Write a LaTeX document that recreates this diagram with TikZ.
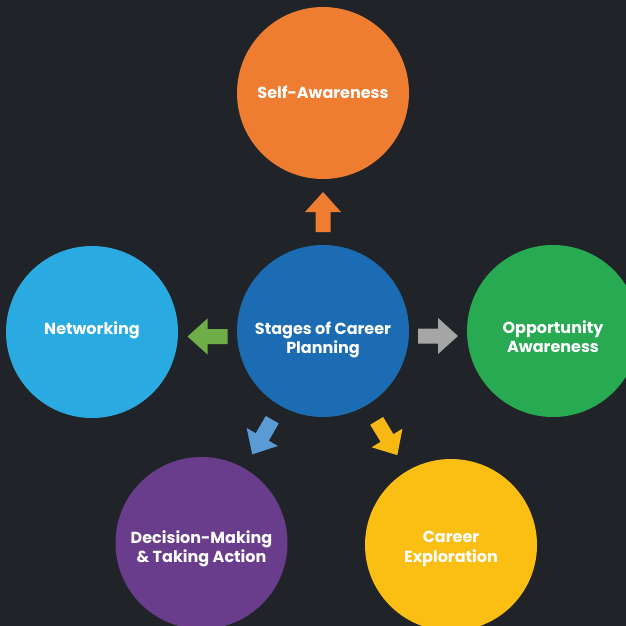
\documentclass[tikz,border=0pt]{standalone}
\usepackage{fontspec}
\setmainfont{Poppins}
\usetikzlibrary{calc}
\definecolor{bgc}{HTML}{202428}
\definecolor{cOrange}{HTML}{EE7D31}
\definecolor{cBlue}{HTML}{1B6CB2}
\definecolor{cSky}{HTML}{29ABE2}
\definecolor{cGreen}{HTML}{28AA52}
\definecolor{cPurple}{HTML}{693C8C}
\definecolor{cYellow}{HTML}{FBBE12}
\definecolor{aGreen}{HTML}{6FAD46}
\definecolor{aGray}{HTML}{A6A6A6}
\definecolor{aBlue}{HTML}{5B9BD5}
\definecolor{aYellow}{HTML}{F9B914}
\begin{document}
\begin{tikzpicture}[x=1pt,y=-1pt,
  bubble/.style={circle, minimum size=172pt, inner sep=0pt},
  lbl/.style={text=white, font=\bfseries\fontsize{16}{19.5}\selectfont, align=center, inner sep=0pt},
  blockarrow/.pic={\fill (-20,-7.5) -- (0,-7.5) -- (0,-18) -- (20,0) -- (0,18) -- (0,7.5) -- (-20,7.5) -- cycle;}
]
\useasboundingbox (0,0) rectangle (626,626);
\fill[bgc] (0,0) rectangle (626,626);
\begin{scope}
\clip (0,0) rectangle (626,626);
\node[bubble, fill=cOrange, label={[lbl, yshift=1pt]center:Self-Awareness}] (self) at (323,93) {};
\node[bubble, fill=cBlue, label={[lbl, yshift=-9pt]center:Stages of Career\\Planning}] (hub) at (323,331) {};
\node[bubble, fill=cSky, label={[lbl, yshift=2pt]center:Networking}] (net) at (92,332) {};
\node[bubble, fill=cGreen, label={[lbl, yshift=-5.5pt]center:Opportunity\\Awareness}] (opp) at (553,331) {};
\node[bubble, fill=cPurple, label={[lbl, yshift=-6pt]center:Decision-Making\\\& Taking Action}] (dec) at (201.5,543) {};
\node[bubble, fill=cYellow, label={[lbl, yshift=-4pt]center:Career\\Exploration}] (car) at (451,545) {};
\end{scope}
\pic[fill=cOrange, rotate=90] at ($(hub)!0.5!(self)$) {blockarrow};
\pic[fill=aGreen, rotate=180] at ($($(hub)!0.5!(net)$)+(0,5)$) {blockarrow};
\pic[fill=aGray, rotate=0] at ($($(hub)!0.5!(opp)$)+(0,5)$) {blockarrow};
\pic[fill=aBlue, rotate=240] at ($(hub)!0.5!(dec)$) {blockarrow};
\pic[fill=aYellow, rotate=301] at ($(hub)!0.5!(car)$) {blockarrow};
\end{tikzpicture}
\end{document}
